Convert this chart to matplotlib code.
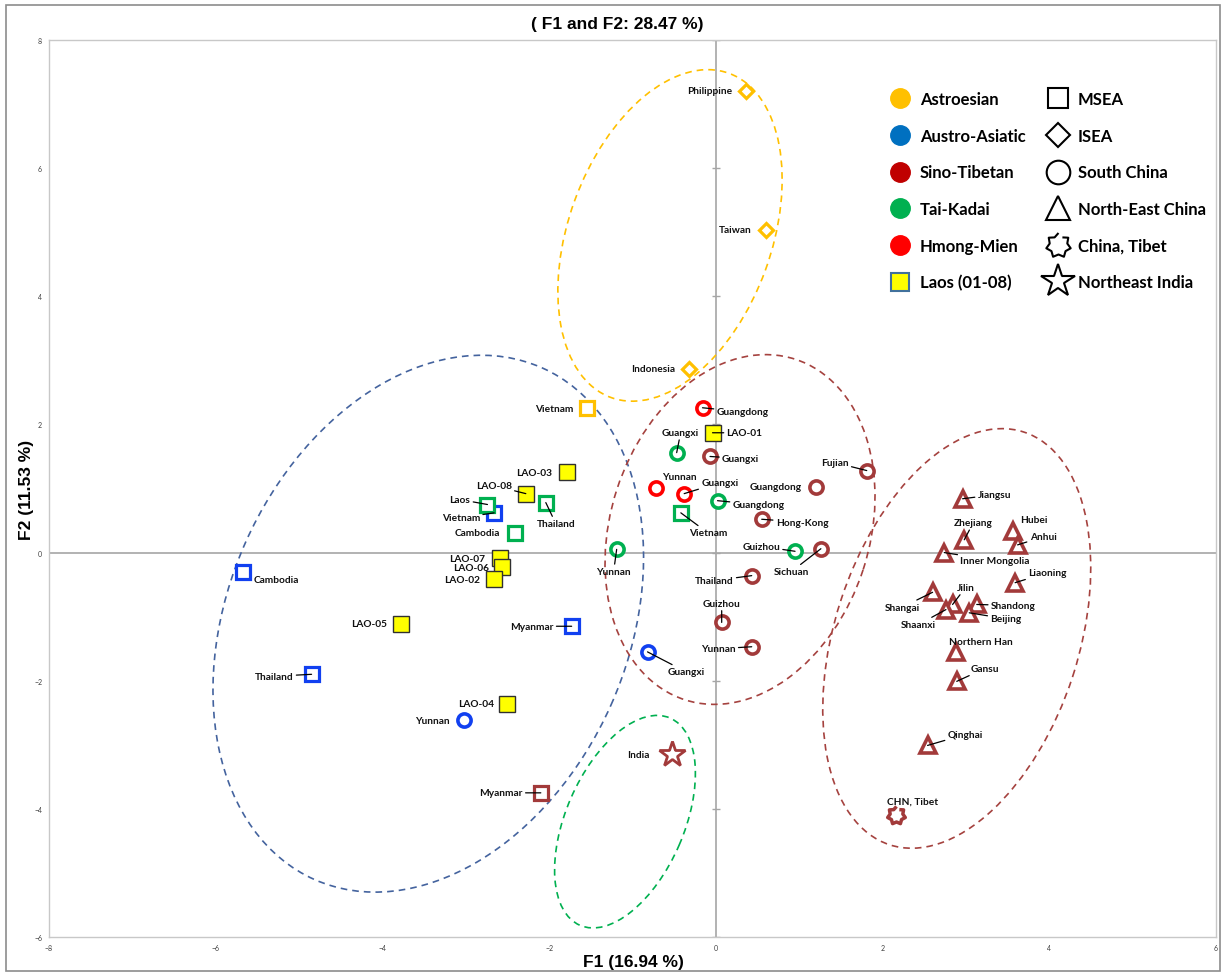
import matplotlib
matplotlib.use("Agg")
import matplotlib.pyplot as plt
import numpy as np
from matplotlib.lines import Line2D
from matplotlib.patches import Ellipse, Rectangle
from matplotlib.transforms import Affine2D, ScaledTranslation

plt.rcParams['font.family'] = ['Lato', 'DejaVu Sans']

# --- data ---
pop_names = ["Philippine", "Taiwan", "Indonesia", "Vietnam",
             "Vietnam", "Cambodia", "Myanmar", "Thailand", "Yunnan", "Guangxi",
             "Guangxi", "Fujian", "Guangdong", "Hong-Kong", "Sichuan", "Thailand",
             "Guizhou", "Yunnan", "Myanmar", "India", "CHN, Tibet",
             "Jiangsu", "Zhejiang", "Hubei", "Anhui", "Inner Mongolia", "Liaoning",
             "Shangai", "Jilin", "Shaanxi", "Shandong", "Beijing", "Northern Han",
             "Gansu", "Qinghai",
             "Laos", "Thailand", "Cambodia", "Vietnam", "Guangxi", "Guangdong",
             "Guizhou", "Yunnan",
             "Guangdong", "Yunnan", "Guangxi",
             "LAO-01", "LAO-03", "LAO-08", "LAO-07", "LAO-06", "LAO-02", "LAO-05", "LAO-04"]
pop_group = (["Astroesian"] * 4 + ["Austro-Asiatic"] * 6 + ["Sino-Tibetan"] * 25
             + ["Tai-Kadai"] * 8 + ["Hmong-Mien"] * 3 + ["Laos"] * 8)
pop_region = (["ISEA"] * 3 + ["MSEA"]
              + ["MSEA"] * 4 + ["South China"] * 2
              + ["South China"] * 8 + ["MSEA", "Northeast India", "China, Tibet"]
              + ["North-East China"] * 14
              + ["MSEA"] * 4 + ["South China"] * 4
              + ["South China"] * 3
              + ["MSEA"] * 8)
f1 = [0.36, 0.60, -0.32, -1.54,
      -2.66, -5.67, -1.73, -4.85, -3.02, -0.82,
      -0.07, 1.81, 1.20, 0.55, 1.26, 0.43, 0.07, 0.43, -2.10, -0.53, 2.16,
      2.96, 2.98, 3.56, 3.62, 2.74, 3.59, 2.60, 2.84, 2.76, 3.13, 3.04, 2.88, 2.89, 2.54,
      -2.74, -2.04, -2.41, -0.42, -0.47, 0.02, 0.95, -1.19,
      -0.16, -0.72, -0.38,
      -0.04, -1.79, -2.28, -2.59, -2.57, -2.66, -3.78, -2.50]
f2 = [7.21, 5.04, 2.87, 2.25,
      0.62, -0.31, -1.15, -1.90, -2.62, -1.55,
      1.50, 1.28, 1.03, 0.52, 0.06, -0.36, -1.09, -1.47, -3.75, -3.15, -4.10,
      0.84, 0.20, 0.33, 0.12, 0.00, -0.47, -0.62, -0.81, -0.89, -0.81, -0.94, -1.55, -2.01, -3.01,
      0.75, 0.78, 0.31, 0.62, 1.56, 0.81, 0.02, 0.05,
      2.26, 1.01, 0.92,
      1.87, 1.25, 0.92, -0.09, -0.23, -0.42, -1.11, -2.36]

x_ticks = [-8, -6, -4, -2, 0, 2, 4, 6]
y_ticks = [-6, -4, -2, 0, 2, 4, 6, 8]

# label placement: offset in pixels (dx, dy), alignment, leader line
label_pos = [(-14, 0, 'right', 0), (-14, 0, 'right', 0), (-14, 0, 'right', 0), (-14, 0, 'right', 0),
             (-14, -5, 'right', 1), (10, -7, 'left', 0), (-18, 0, 'right', 1), (-18, -2, 'right', 1),
             (-14, 0, 'right', 0), (20, -20, 'left', 1),
             (12, -2, 'left', 1), (-18, 8, 'right', 1), (-14, 0, 'right', 0), (14, -3, 'left', 1),
             (-12, -23, 'right', 1), (-18, -5, 'right', 1), (0, 19, 'center', 1), (-16, -2, 'right', 1),
             (-18, 0, 'right', 1), (-22, 0, 'right', 0), (17, 14, 'center', 0),
             (15, 4, 'left', 1), (9, 17, 'center', 1), (21, 12, 'center', 0), (12, 8, 'left', 1),
             (16, -8, 'left', 1), (13, 10, 'left', 1), (-13, -15, 'right', 1), (13, 17, 'center', 1),
             (-10, -15, 'right', 1), (14, -1, 'left', 1), (21, -6, 'left', 1), (25, 10, 'center', 0),
             (14, 13, 'left', 1), (20, 11, 'left', 1),
             (-17, 5, 'right', 1), (10, -21, 'center', 1), (-15, 0, 'right', 0), (27, -20, 'center', 1),
             (4, 20, 'center', 1), (15, -4, 'left', 1), (-15, 5, 'right', 1), (-3, -22, 'center', 1),
             (14, -4, 'left', 1), (24, 11, 'center', 0), (17, 11, 'left', 1),
             (14, 0, 'left', 1), (-15, 0, 'right', 0), (-14, 8, 'right', 1), (-15, 0, 'right', 0),
             (-13, 0, 'right', 0), (-14, 0, 'right', 0), (-14, 0, 'right', 0), (-13, 0, 'right', 0)]

# group ellipses: centre (F1, F2), axes in pixels, angle
ell_center = [(-0.55, 4.95), (-3.45, -1.11), (0.29, 0.36), (2.89, -1.34), (-1.09, -4.20)]
ell_size = [(345, 203, 70), (560, 400, 66), (358, 259, 72), (434, 244, 72), (226, 118, 66.5)]
ell_color = ['#FFC000', '#44639E', '#A5423F', '#A5423F', '#00B050']

group_color = {'Astroesian': '#FFC000', 'Austro-Asiatic': '#1140F0', 'Sino-Tibetan': '#A23A3A',
               'Tai-Kadai': '#00B050', 'Hmong-Mien': '#FF0000', 'Laos': '#FFFF00'}
legend_color = {'Astroesian': '#FFC000', 'Austro-Asiatic': '#0070C0', 'Sino-Tibetan': '#C00000',
                'Tai-Kadai': '#00B050', 'Hmong-Mien': '#FF0000'}

ang = np.linspace(np.pi / 2, np.pi / 2 + 2 * np.pi, 15)[:-1]
rad = np.where(np.arange(14) % 2 == 0, 1.0, 0.72)
heptagram = list(zip(rad * np.cos(ang), rad * np.sin(ang)))

region_marker = {'MSEA': ('s', 10, 2.3), 'ISEA': ('D', 7.5, 2.3), 'South China': ('o', 9.5, 2.6),
                 'North-East China': ('^', 11, 2.6), 'China, Tibet': (heptagram, 13, 2.5),
                 'Northeast India': ('*', 19, 2.0)}

fig = plt.figure(figsize=(12.26, 9.78), dpi=100)
ax = fig.add_axes([49 / 1226, 40 / 978, 1167 / 1226, 897 / 978])
ax.set_xlim(-8, 6)
ax.set_ylim(-6, 8)

for sp in ax.spines.values():
    sp.set_color('#C8C8C8')
    sp.set_linewidth(1)
ax.set_xticks(x_ticks)
ax.set_yticks(y_ticks)
ax.tick_params(length=0, labelsize=5, colors='#404040', pad=5)

ax.axhline(0, color='#A6A6A6', lw=1.2, zorder=1)
ax.axvline(0, color='#A6A6A6', lw=1.2, zorder=1)
ax.plot(np.zeros(len(y_ticks)), y_ticks, ls='', marker='_', ms=6, mew=1, color='#A6A6A6', zorder=1)

fig.canvas.draw()
for (cx, cy), (w, h, a), c in zip(ell_center, ell_size, ell_color):
    tr = Affine2D() + ScaledTranslation(cx, cy, ax.transData)
    ax.add_patch(Ellipse((0, 0), w, h, angle=a, transform=tr, fill=False,
                         ec=c, lw=1.2, ls=(0, (4, 3)), zorder=2))

for i in range(len(pop_names)):
    m, ms, mew = region_marker[pop_region[i]]
    g = pop_group[i]
    if g == 'Laos':
        ax.plot(f1[i], f2[i], ls='', marker='s', ms=11.5, mfc='#FFFF00', mec='#303030', mew=1, zorder=4)
    else:
        ax.plot(f1[i], f2[i], ls='', marker=m, ms=ms, mfc='white', mec=group_color[g], mew=mew, zorder=4)
    dx, dy, ha, lead = label_pos[i]
    ap = dict(arrowstyle='-', color='black', lw=0.9, shrinkA=0, shrinkB=0) if lead else None
    ax.annotate(pop_names[i], xy=(f1[i], f2[i]), xytext=(dx, dy), textcoords='offset pixels',
                ha=ha, va='center', fontsize=7.3, fontweight='bold', color='#111111',
                arrowprops=ap, zorder=5)

# legend
handles = []
labels = []
for g in ['Astroesian', 'Austro-Asiatic', 'Sino-Tibetan', 'Tai-Kadai', 'Hmong-Mien']:
    handles.append(Line2D([], [], ls='', marker='o', ms=14, mfc=legend_color[g], mec=legend_color[g]))
    labels.append(g)
handles.append(Line2D([], [], ls='', marker='s', ms=13, mfc='#FFFF00', mec='#41719C', mew=1.5))
labels.append('Laos (01-08)')
leg_sizes = {'MSEA': 15, 'ISEA': 12, 'South China': 17, 'North-East China': 17,
             'China, Tibet': 18, 'Northeast India': 25}
for r in ['MSEA', 'ISEA', 'South China', 'North-East China', 'China, Tibet', 'Northeast India']:
    handles.append(Line2D([], [], ls='', marker=region_marker[r][0], ms=leg_sizes[r],
                          mfc='white', mec='black', mew=1.5))
    labels.append(r)
ax.legend(handles, labels, ncol=2, loc='upper left', bbox_to_anchor=((889 - 49) / 1167, (938 - 92) / 897),
          frameon=False, prop={'weight': 'bold', 'size': 12}, labelspacing=1.24, handlelength=1.3,
          handletextpad=0.55, columnspacing=1.3, borderaxespad=0, borderpad=0)

fig.text(617 / 1226, 1 - 25 / 978, '( F1 and F2: 28.47 %)', ha='center', va='center',
         fontsize=12.5, fontweight='bold', family=['Liberation Sans', 'DejaVu Sans'])
fig.text(633 / 1226, 1 - 963 / 978, 'F1 (16.94 %)', ha='center', va='center', fontsize=12.5,
         fontweight='bold', family=['Liberation Sans', 'DejaVu Sans'])
fig.text(27 / 1226, 1 - 490 / 978, 'F2 (11.53 %)', ha='center', va='center', fontsize=12.5,
         fontweight='bold', rotation=90, family=['Liberation Sans', 'DejaVu Sans'])

fig.add_artist(Rectangle((6 / 1226, 6 / 978), 1 - 12 / 1226, 1 - 12 / 978, transform=fig.transFigure,
                         fill=False, ec='#8C8C8C', lw=1.2))

fig.savefig('out.png', dpi=100)
